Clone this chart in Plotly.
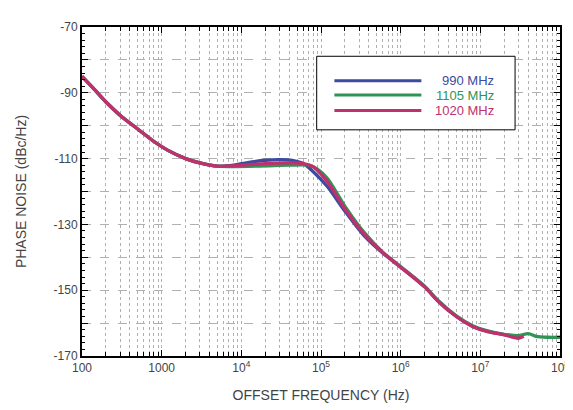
import plotly.graph_objects as go

# ---- data ----
f_common = [100, 150, 200, 300, 500, 800, 1200, 2000, 3000, 5000]
v_common = [-85, -89.5, -92.8, -96.8, -101, -104.8, -107.5, -110, -111.3, -112.3]

f_990 = [8e3, 1.2e4, 2e4, 3e4, 4.5e4, 6e4, 8e4, 1.2e5, 2e5, 3.5e5, 6e5, 1e6, 2e6, 3e6, 5e6, 8e6, 1.2e7, 2e7, 3.2e7]
v_990 = [-112, -111.2, -110.5, -110.3, -110.6, -111.5, -114, -118.5, -126, -133.5, -138.8, -143, -149, -153.5, -158, -161, -162.4, -163.5, -164]

f_1105 = [8e3, 2e4, 4e4, 7e4, 9e4, 1.2e5, 2e5, 3.5e5, 6e5, 1e6, 2e6, 3e6, 5e6, 8e6, 1.2e7, 2e7, 3e7, 4e7, 5e7, 7e7, 1e8]
v_1105 = [-112.4, -112.2, -112, -112, -113.2, -116, -124.5, -132.5, -138.5, -142.8, -148.8, -153.3, -157.8, -160.8, -162.3, -163.4, -163.8, -163.2, -164, -164.3, -164.3]

f_1020 = [8e3, 2e4, 4e4, 6e4, 8e4, 1.2e5, 2e5, 3.5e5, 6e5, 1e6, 2e6, 3e6, 5e6, 8e6, 1.2e7, 2e7, 3e7, 3.5e7]
v_1020 = [-112.2, -111.5, -111.3, -111.5, -112.5, -117, -125.3, -133, -138.6, -143, -149, -153.5, -158, -161, -162.5, -163.6, -164.6, -164]

series_names = ["990 MHz", "1105 MHz", "1020 MHz"]
series_colors = ["#3c4aa0", "#2f9455", "#c0306c"]

x_tickvals = [1e2, 1e3, 1e4, 1e5, 1e6, 1e7, 1e8]
x_ticktext = ["100", "1000", "10<sup>4</sup>", "10<sup>5</sup>", "10<sup>6</sup>", "10<sup>7</sup>", "10<sup>8</sup>"]
y_tickvals = [-70, -80, -90, -100, -110, -120, -130, -140, -150, -160, -170]
y_ticktext = ["-70", "", "-90", "", "-110", "", "-130", "", "-150", "", "-170"]

fig = go.Figure()
for name, color, fx, vy in zip(series_names, series_colors,
                               [f_990, f_1105, f_1020], [v_990, v_1105, v_1020]):
    fig.add_trace(go.Scatter(x=f_common + fx, y=v_common + vy, mode="lines", name=name,
                             line=dict(color=color, width=3.3, shape="spline", smoothing=0.8),
                             showlegend=False))

grid_col = "#b0b0b0"
fig.update_xaxes(type="log", range=[2, 8], tickvals=x_tickvals, ticktext=x_ticktext,
                 ticks="inside", ticklen=6, tickwidth=1, tickcolor="black",
                 showline=True, linecolor="black", linewidth=2, mirror="allticks",
                 showgrid=True, gridcolor=grid_col, griddash="dot", gridwidth=1,
                 minor=dict(dtick="D1", ticks="inside", ticklen=4, tickcolor="black", showgrid=True,
                            gridcolor=grid_col, griddash="dot", gridwidth=1),
                 tickfont=dict(size=12, color="#444444"),
                 title=dict(text="OFFSET FREQUENCY (Hz)", font=dict(size=14, color="#444444"), standoff=16),
                 zeroline=False)
fig.update_yaxes(range=[-170, -70], tickvals=y_tickvals, ticktext=y_ticktext,
                 ticks="inside", ticklen=6, tickwidth=1, tickcolor="black",
                 showline=True, linecolor="black", linewidth=2, mirror="allticks",
                 showgrid=True, gridcolor=grid_col, griddash="dash", gridwidth=1,
                 minor=dict(dtick=2, ticks="inside", ticklen=3, tickcolor="black", showgrid=False),
                 tickfont=dict(size=12, color="#444444"),
                 title=dict(text="PHASE NOISE (dBc/Hz)", font=dict(size=14, color="#444444"), standoff=24),
                 zeroline=False)

# legend box drawn manually
fig.add_shape(type="rect", xref="paper", yref="paper", x0=0.491, x1=0.906, y0=0.6875, y1=0.911,
              line=dict(color="black", width=1), fillcolor="white", layer="above")
leg_y = [0.837, 0.793, 0.746]
for name, color, yy in zip(series_names, series_colors, leg_y):
    fig.add_shape(type="line", xref="paper", yref="paper", x0=0.528, x1=0.710, y0=yy, y1=yy,
                  line=dict(color=color, width=3), layer="above")
    fig.add_annotation(xref="paper", yref="paper", x=0.867, y=yy, text=name, showarrow=False,
                       xanchor="right", yanchor="middle", font=dict(size=13, color=color))

fig.update_layout(width=573, height=410, margin=dict(l=71, r=15, t=12, b=62),
                  paper_bgcolor="white", plot_bgcolor="white",
                  font=dict(family="Liberation Sans, Arial, sans-serif"))
fig.write_html("out.html")
